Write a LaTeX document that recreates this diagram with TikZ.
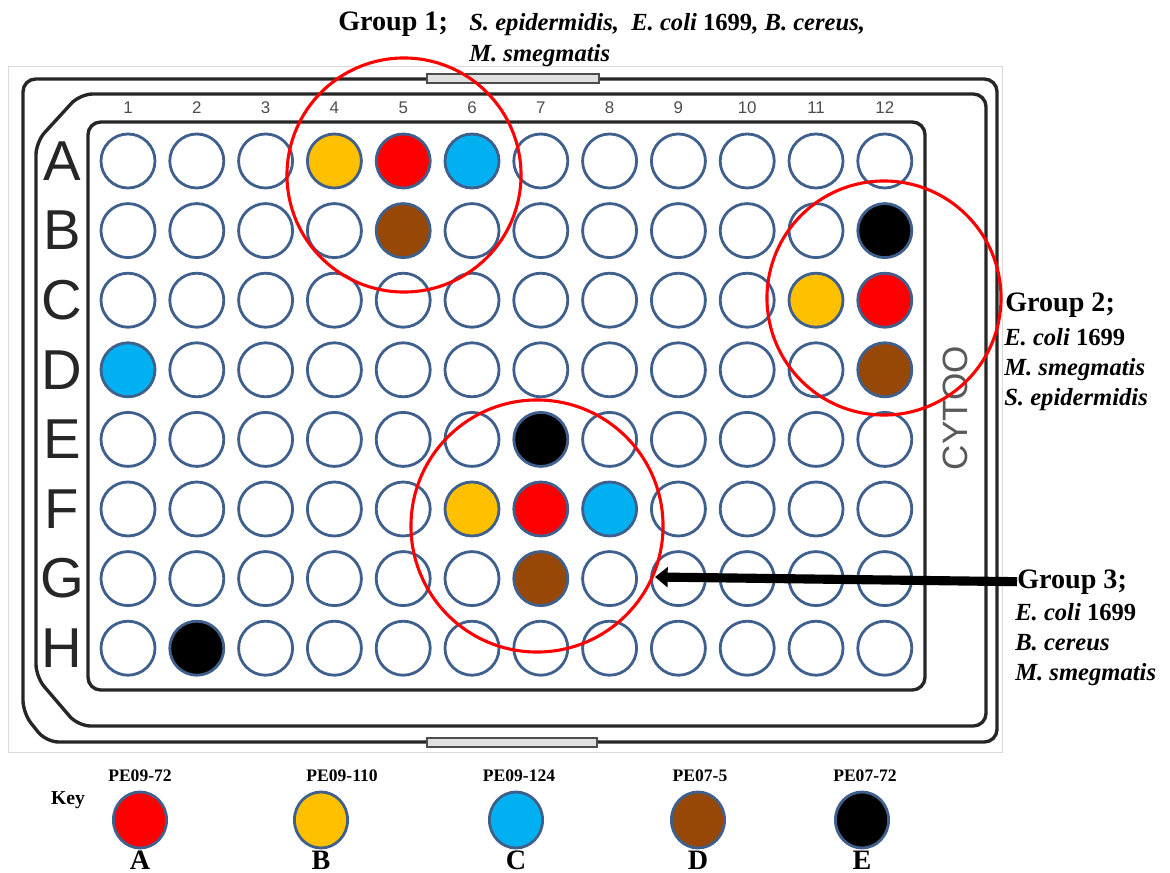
\documentclass[tikz,border=0pt]{standalone}
\usepackage{fontspec}
\setmainfont{Liberation Serif}
\newfontfamily\platefont{Liberation Sans}
\usepackage{tikz}
\usetikzlibrary{arrows.meta,shapes.geometric}
\definecolor{strainA}{HTML}{FF0000}
\definecolor{strainB}{HTML}{FFC000}
\definecolor{strainC}{HTML}{00B0F0}
\definecolor{strainD}{HTML}{974806}
\definecolor{strainE}{HTML}{000000}
\definecolor{wellrim}{HTML}{3F5F8C}
\tikzset{
	plateline/.style={draw=black!85,line width=2.4pt,rounded corners=9pt},
	ring/.style={circle,draw=red,line width=2.2pt,inner sep=0pt},
	grouptitle/.style={font=\bfseries\fontsize{20}{24}\selectfont,inner sep=0pt},
	species/.style={font=\bfseries\itshape\fontsize{17.5}{20}\selectfont,inner sep=0pt},
	pointer/.style={-{Triangle[length=9pt,width=14pt]},draw=black,line width=6.5pt}
}

\begin{document}
\begin{tikzpicture}[x=0.025cm,y=-0.025cm,
			well/.style={circle,draw=wellrim,fill=white,line width=2pt,inner sep=0pt,
				minimum size=1.35cm},
			keywell/.style={ellipse,draw=wellrim,line width=2pt,inner sep=0pt,
				minimum width=1.33cm,minimum height=1.4cm},
			rowlab/.style={font=\platefont\fontsize{40}{40}\selectfont,text=black!85,inner sep=0pt},
			colnum/.style={font=\platefont\fontsize{12}{12}\selectfont,text=black!70,inner sep=0pt},
			keytag/.style={font=\bfseries\fontsize{12.5}{14}\selectfont,inner sep=0pt,anchor=base},
			keyletter/.style={font=\bfseries\fontsize{20}{22}\selectfont,inner sep=0pt,anchor=base},
			paint-A4/.style={fill=strainB}, paint-A5/.style={fill=strainA},
			paint-A6/.style={fill=strainC}, paint-B5/.style={fill=strainD},
			paint-B12/.style={fill=strainE}, paint-C11/.style={fill=strainB},
			paint-C12/.style={fill=strainA}, paint-D1/.style={fill=strainC},
			paint-D12/.style={fill=strainD}, paint-E7/.style={fill=strainE},
			paint-F6/.style={fill=strainB}, paint-F7/.style={fill=strainA},
			paint-F8/.style={fill=strainC}, paint-G7/.style={fill=strainD},
			paint-H2/.style={fill=strainE}]
	\useasboundingbox (0,0) rectangle (1170,873);
	% plate photo frame
	\draw[black!15,line width=0.6pt] (8,66) rectangle (1002,752);
	\draw[plateline] (23,713) -- (23,79) -- (997,79) -- (997,742) -- (46,742) -- cycle;
	\draw[plateline] (36,677) -- (36,142) -- (80,94) -- (986,94) -- (986,726) -- (78,726) -- cycle;
	\draw[plateline] (88,122) rectangle (925,690);
	\draw[black!70,fill=black!12,line width=0.8pt] (427,74) rectangle (599,83);
	\draw[black!70,fill=black!12,line width=0.8pt] (427,738) rectangle (597,747);
	\node[rotate=90,font=\platefont\fontsize{25}{25}\selectfont,text=black!65] (brand) at (955,408) {CYTOO};
	% columns and rows
	\foreach \c in {1,...,12}
	\node[colnum] (col\c) at ({128+68.8*(\c-1)},108) {\c};
	\foreach \r [count=\i from 0] in {A,B,C,D,E,F,G,H} {
		\node[rowlab] (row\r) at (62,{161+69.6*\i}) {\r};
		\foreach \c in {1,...,12}
		\node[well,paint-\r\c/.try] (w\r\c) at ({128+68.8*(\c-1)},{161+69.6*\i}) {};
	}
	% groups
	\node[ring,minimum size=5.85cm] (ring1) at (404,175) {};
	\node[ring,minimum size=5.85cm] (ring2) at (884,298) {};
	\node[ring,minimum size=6.3cm] (ring3) at (537,526) {};
	\node[grouptitle,anchor=base west] (g1title) at (338,31) {Group 1;};
	\node[species,anchor=base west] (g1a) at (469,31) {S. epidermidis,\ \ E. coli \textup{1699}, B. cereus,};
	\node[species,anchor=base west] (g1b) at (469,62) {M. smegmatis};
	\node[grouptitle,anchor=base west] (g2title) at (1005,311) {Group 2;};
	\node[species,anchor=base west] (g2a) at (1004,345) {E. coli \textup{1699}};
	\node[species,anchor=base west] (g2b) at (1004,375) {M. smegmatis};
	\node[species,anchor=base west] (g2c) at (1004,405) {S. epidermidis};
	\node[grouptitle,anchor=base west] (g3title) at (1017,588) {Group 3;};
	\node[species,anchor=base west] (g3a) at (1015,620) {E. coli \textup{1699}};
	\node[species,anchor=base west] (g3b) at (1015,650) {B. cereus};
	\node[species,anchor=base west] (g3c) at (1015,680) {M. smegmatis};
	\coordinate (tip3) at (655,577);
	\draw[pointer] (g3title.west) -- (tip3);
	% key
	\node[font=\bfseries\fontsize{14}{16}\selectfont,inner sep=0pt] (keyword) at (68,800) {Key};
	\foreach \x/\lx/\c/\id/\l in {140/140/strainA/PE09-72/A,321/342/strainB/PE09-110/B,
		516/519/strainC/PE09-124/C,698/700/strainD/PE07-5/D,862/865/strainE/PE07-72/E} {
		\node[keywell,fill=\c] (key\l) at (\x,820) {};
		\node[keytag] (tag\l) at (\lx,781) {\id};
		\node[keyletter] (let\l) at (\x,869) {\l};
	}
\end{tikzpicture}
\end{document}
